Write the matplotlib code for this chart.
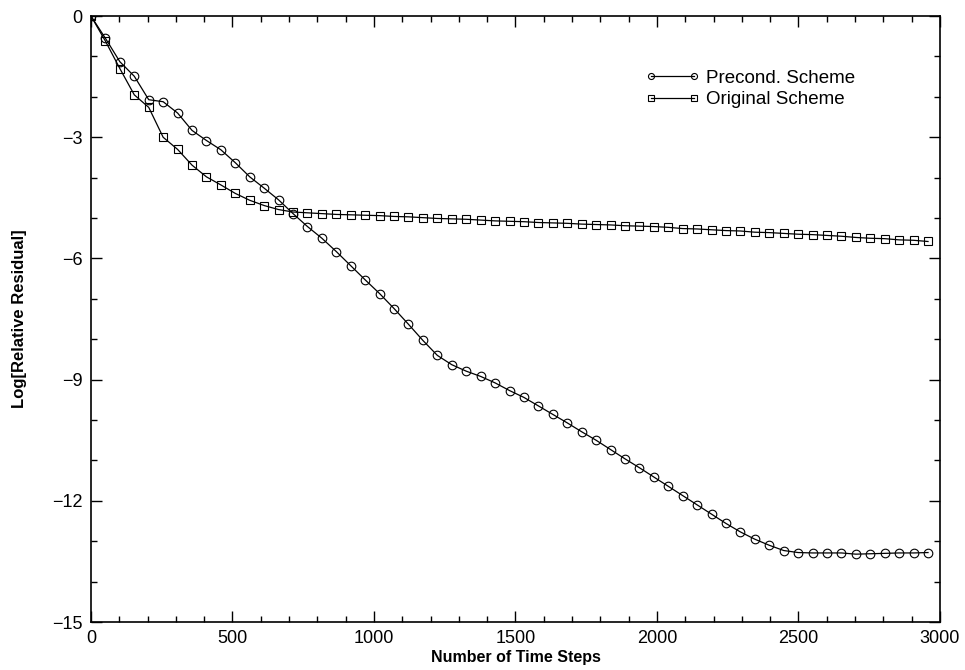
import matplotlib.pyplot as plt
from matplotlib.ticker import MultipleLocator

# Time step at which each marker sits
steps = [0, 51, 102, 153, 204, 255, 306, 357, 408, 459,
         510, 561, 612, 663, 714, 765, 816, 867, 918, 969,
         1020, 1071, 1122, 1173, 1224, 1275, 1326, 1377, 1428, 1479,
         1530, 1581, 1632, 1683, 1734, 1785, 1836, 1887, 1938, 1989,
         2040, 2091, 2142, 2193, 2244, 2295, 2346, 2397, 2448, 2499,
         2550, 2601, 2652, 2703, 2754, 2805, 2856, 2907, 2958]

# log10 of relative residual, preconditioned scheme
precond = [0.0, -0.55, -1.13, -1.49, -2.07, -2.12, -2.40, -2.83, -3.08, -3.31,
           -3.63, -3.98, -4.26, -4.55, -4.89, -5.21, -5.50, -5.83, -6.18, -6.53,
           -6.87, -7.24, -7.63, -8.03, -8.40, -8.63, -8.79, -8.92, -9.08, -9.27,
           -9.44, -9.65, -9.86, -10.07, -10.29, -10.50, -10.73, -10.96, -11.18, -11.41,
           -11.64, -11.87, -12.10, -12.33, -12.56, -12.77, -12.95, -13.10, -13.23, -13.28,
           -13.29, -13.29, -13.29, -13.32, -13.31, -13.30, -13.29, -13.29, -13.28]

# log10 of relative residual, original scheme
original = [0.0, -0.62, -1.30, -1.95, -2.26, -3.00, -3.30, -3.69, -3.98, -4.18,
            -4.39, -4.56, -4.69, -4.79, -4.85, -4.87, -4.89, -4.91, -4.92, -4.93,
            -4.94, -4.96, -4.97, -4.99, -5.01, -5.02, -5.03, -5.05, -5.07, -5.08,
            -5.09, -5.11, -5.12, -5.13, -5.15, -5.16, -5.17, -5.19, -5.20, -5.21,
            -5.23, -5.26, -5.27, -5.29, -5.31, -5.32, -5.35, -5.36, -5.38, -5.40,
            -5.41, -5.43, -5.45, -5.48, -5.50, -5.51, -5.54, -5.55, -5.58]

plt.rcParams['font.family'] = ['Liberation Sans', 'DejaVu Sans']

fig = plt.figure(figsize=(9.65, 6.7), dpi=100)
ax = fig.add_axes([0.0943, 0.0716, 0.8797, 0.9044])

ax.plot(steps, precond, color='black', linewidth=0.9, marker='o', markersize=6.2,
        markerfacecolor='none', markeredgecolor='black', markeredgewidth=0.8,
        label='Precond. Scheme')
ax.plot(steps, original, color='black', linewidth=0.9, marker='s', markersize=5.8,
        markerfacecolor='none', markeredgecolor='black', markeredgewidth=0.8,
        label='Original Scheme')

ax.set_xlim(0, 3000)
ax.set_ylim(-15, 0)
ax.xaxis.set_major_locator(MultipleLocator(500))
ax.xaxis.set_minor_locator(MultipleLocator(100))
ax.yaxis.set_major_locator(MultipleLocator(3))
ax.yaxis.set_minor_locator(MultipleLocator(1))
ax.tick_params(which='both', direction='in', top=True, right=True, labelsize=13, width=1)
ax.tick_params(which='major', length=8, pad=6)
ax.tick_params(which='minor', length=4)
for s in ax.spines.values():
    s.set_linewidth(1.2)

ax.set_xlabel('Number of Time Steps', fontsize=11.5, fontweight='bold', labelpad=2)
ax.set_ylabel('Log[Relative Residual]', fontsize=12, fontweight='bold', labelpad=18)

ax.legend(loc='upper left', bbox_to_anchor=(0.644, 0.924), frameon=False, numpoints=2,
          handlelength=2.9, markerscale=0.7, fontsize=13.5, labelspacing=0.23,
          handletextpad=0.35, borderaxespad=0)

plt.savefig('out.png', dpi=100)
